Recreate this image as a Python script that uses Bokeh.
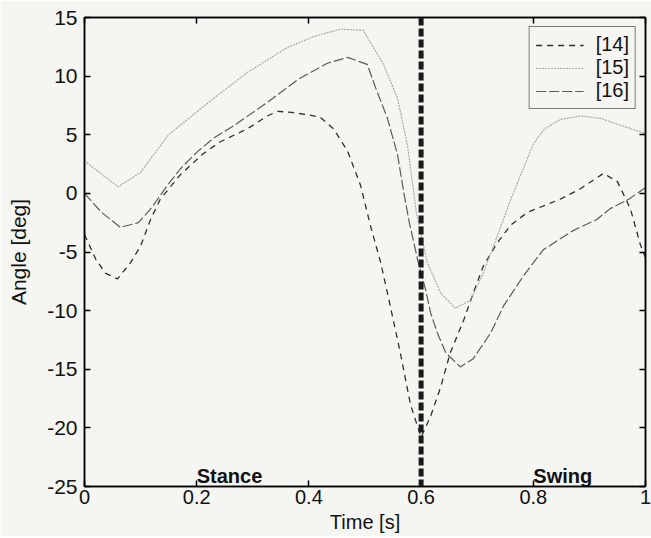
from bokeh.plotting import figure
from bokeh.models import (LinearAxis, Range1d, Span, Legend, LegendItem,
                          CustomJSTickFormatter, FixedTicker, ColumnDataSource)
from bokeh.core.properties import value
from bokeh.embed import file_html
from bokeh.resources import INLINE

# ---------------- data ----------------
x14 = [0, 0.02, 0.037, 0.059, 0.082, 0.1, 0.118, 0.135, 0.171, 0.212, 0.242, 0.29,
       0.326, 0.344, 0.37, 0.398, 0.42, 0.444, 0.469, 0.492, 0.51, 0.528, 0.545,
       0.563, 0.581, 0.6, 0.617, 0.635, 0.652, 0.676, 0.693, 0.711, 0.736, 0.76,
       0.79, 0.848, 0.884, 0.925, 0.95, 0.973, 0.991, 1.0]
y14 = [-3.5, -5.6, -6.8, -7.3, -5.9, -4.5, -2.2, -0.5, 1.6, 3.4, 4.4, 5.5,
       6.6, 7.0, 6.9, 6.7, 6.5, 5.5, 3.6, 0.7, -2.8, -5.9, -9.6,
       -13.6, -18.0, -20.8, -19.0, -16.5, -13.6, -10.8, -8.5, -6.2, -4.2, -2.7,
       -1.6, -0.5, 0.4, 1.7, 1.0, -1.3, -4.4, -5.5]

x15 = [0, 0.01, 0.06, 0.1, 0.15, 0.23, 0.29, 0.36, 0.41, 0.456, 0.497, 0.533,
       0.558, 0.576, 0.592, 0.611, 0.635, 0.661, 0.688, 0.711, 0.736, 0.76,
       0.783, 0.8, 0.82, 0.848, 0.884, 0.92, 0.95, 1.0]
y15 = [2.8, 2.4, 0.55, 1.8, 5.0, 8.1, 10.3, 12.4, 13.4, 14.0, 13.9, 11.0,
       8.1, 4.0, -1.8, -5.9, -8.5, -9.8, -9.1, -6.8, -3.6, -0.5,
       2.2, 4.2, 5.5, 6.3, 6.6, 6.4, 5.9, 5.1]

x16 = [0, 0.03, 0.064, 0.096, 0.12, 0.148, 0.171, 0.2, 0.23, 0.27, 0.33, 0.38,
       0.433, 0.469, 0.504, 0.519, 0.54, 0.558, 0.569, 0.579, 0.595, 0.608, 0.617,
       0.629, 0.644, 0.67, 0.693, 0.724, 0.747, 0.783, 0.818, 0.87, 0.914, 0.937,
       0.97, 1.0]
y16 = [0.0, -1.6, -2.9, -2.5, -1.2, 0.7, 2.1, 3.5, 4.7, 5.9, 7.9, 9.7,
       11.1, 11.6, 11.0, 9.0, 6.4, 3.3, 0.1, -2.5, -5.9, -8.2, -10.2,
       -11.9, -13.6, -14.8, -14.1, -11.9, -9.6, -7.0, -4.8, -3.2, -2.2, -1.3,
       -0.5, 0.5]

series_names = ["[14]", "[15]", "[16]"]

stance_end = 0.6
phase_labels = ["Stance", "Swing"]
phase_x = [0.2, 0.8]
phase_y = [-25, -25]

x_ticks = [0, 0.2, 0.4, 0.6, 0.8, 1]
x_tick_labels = ["0", "0.2", "0.4", "0.6", "0.8", "1"]
y_ticks = [-25, -20, -15, -10, -5, 0, 5, 10, 15]
y_tick_labels = ["-25", "-20", "-15", "-10", "-5", "0", "5", "10", "15"]

# ---------------- figure ----------------
FONT = "Liberation Sans"
BG = "#f5f5f1"

p = figure(width=651, height=536, output_backend="svg", toolbar_location=None,
           x_range=Range1d(0, 1), y_range=Range1d(-25, 15),
           min_border_left=84, min_border_top=17, min_border_right=6,
           min_border_bottom=50,
           background_fill_color=BG, border_fill_color=BG)
p.grid.visible = False
p.outline_line_color = "black"
p.outline_line_width = 1.5

def style_axis(ax, ticks, labels=None, size="20px"):
    ax.ticker = FixedTicker(ticks=ticks)
    ax.major_tick_in = 6
    ax.major_tick_out = 0
    ax.minor_tick_in = 0
    ax.minor_tick_out = 0
    ax.axis_line_color = "black"
    ax.axis_line_width = 1.5
    ax.major_tick_line_color = "black"
    ax.major_tick_line_width = 1.5
    ax.major_label_text_font = FONT
    ax.major_label_text_font_size = size
    ax.major_label_text_color = "#111111"
    if labels is not None:
        ax.major_label_overrides = {t: l for t, l in zip(ticks, labels)}

style_axis(p.xaxis[0], x_ticks, x_tick_labels, "20px")
style_axis(p.yaxis[0], y_ticks, y_tick_labels, "21px")
p.xaxis[0].major_label_standoff = 3
p.yaxis[0].major_label_standoff = 7
p.xaxis.axis_label = "Time [s]"
p.yaxis.axis_label = "Angle [deg]"
for ax, sz in ((p.xaxis[0], "20px"), (p.yaxis[0], "21px")):
    ax.axis_label_text_font = FONT
    ax.axis_label_text_font_size = sz
    ax.axis_label_text_font_style = "normal"
    ax.axis_label_text_color = "#111111"
p.xaxis[0].axis_label_standoff = 4
p.yaxis[0].axis_label_standoff = 14

blank = CustomJSTickFormatter(code="return '';")
ax_top = LinearAxis(formatter=blank)
ax_right = LinearAxis(formatter=blank)
style_axis(ax_top, x_ticks)
style_axis(ax_right, y_ticks)
for ax in (ax_top, ax_right):
    ax.major_label_text_font_size = "1px"
    ax.major_label_standoff = 0
p.add_layout(ax_top, "above")
p.add_layout(ax_right, "right")

# curves
r14 = p.line(x14, y14, line_color="#2e2e2e", line_width=1.3, line_dash="6 5")
r15 = p.line(x15, y15, line_color="#a8a8a8", line_width=1.2, line_dash="2 1")
r16 = p.line(x16, y16, line_color="#5a5a5a", line_width=1.2, line_dash="10 3")

# stance / swing divider
p.add_layout(Span(location=stance_end, dimension="height", line_color="#1a1a1a",
                  line_width=5, line_dash="8 3"))

# phase labels
src = ColumnDataSource(dict(x=phase_x, y=phase_y, t=phase_labels))
p.text(x="x", y="y", text="t", source=src, text_font=value(FONT),
       text_font_style="bold", text_font_size="20px", text_color="#111111",
       text_align="left", text_baseline="bottom")

legend = Legend(items=[LegendItem(label=series_names[0], renderers=[r14]),
                       LegendItem(label=series_names[1], renderers=[r15]),
                       LegendItem(label=series_names[2], renderers=[r16])],
                location="top_right")
legend.border_line_color = "black"
legend.border_line_width = 1.5
legend.background_fill_color = BG
legend.background_fill_alpha = 1
legend.label_text_font = FONT
legend.label_text_font_size = "20px"
legend.label_text_color = "#111111"
legend.label_height = 22
legend.glyph_height = 22
legend.glyph_width = 48
legend.label_standoff = 12
legend.padding = 6
legend.spacing = 0
legend.margin = 9
p.add_layout(legend)

open("out.html", "w").write(file_html(p, INLINE))
